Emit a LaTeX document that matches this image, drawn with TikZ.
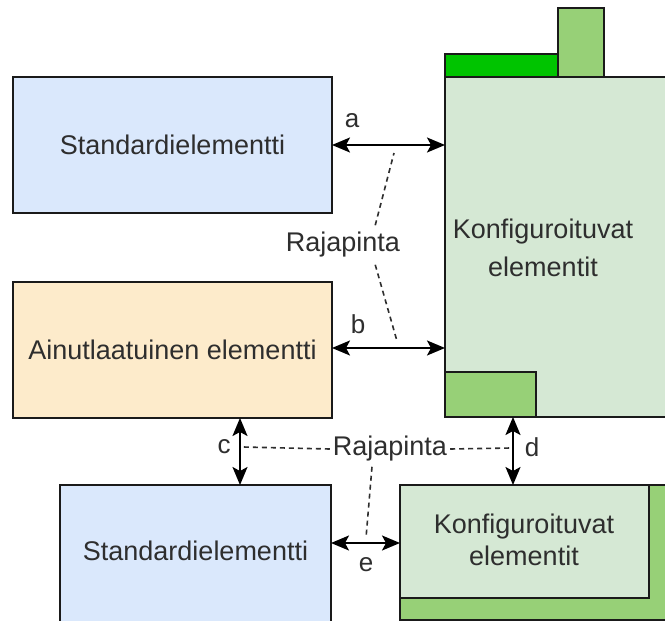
\documentclass[tikz,border=0pt]{standalone}
\usepackage{fontspec}
\setmainfont{Liberation Sans}
\usetikzlibrary{arrows.meta,calc}
\definecolor{stdblue}{HTML}{DAE8FC}
\definecolor{uniqcream}{HTML}{FDEBCB}
\definecolor{cfglight}{HTML}{D5E8D4}
\definecolor{cfgmid}{HTML}{97D077}
\definecolor{cfgbright}{HTML}{00C400}
\definecolor{txtgray}{HTML}{2E2E2E}
\definecolor{edge}{HTML}{1A1A1A}
\begin{document}
\begin{tikzpicture}[x=1pt,y=-1pt,
  box/.style={draw=edge,line width=1.8pt,rectangle,inner sep=0pt,outer sep=0pt},
  txt/.style={text=txtgray,font=\fontsize{27}{32}\selectfont,align=center,inner sep=0pt},
  lbl/.style={text=txtgray,font=\fontsize{26}{30}\selectfont,inner sep=0pt},
  link/.style={line width=1.9pt,draw=black,{Stealth[length=18pt,width=15pt,inset=4pt]}-{Stealth[length=18pt,width=15pt,inset=4pt]}},
  hint/.style={draw=txtgray,line width=1.6pt,dash pattern=on 5pt off 4pt}]
\clip (0,0) rectangle (665,621);
\fill[white] (0,0) rectangle (665,621);

% left column
\node[box,fill=stdblue,minimum width=319pt,minimum height=136pt] (std1) at (172.5,145) {};
\node[txt] (std1t) at (std1.center) {Standardielementti};
\node[box,fill=uniqcream,minimum width=319pt,minimum height=136pt] (uniq) at (172.5,350) {};
\node[txt] (uniqt) at (uniq.center) {Ainutlaatuinen elementti};

% large configurable block with its add-ons
\node[box,fill=cfglight,minimum width=260pt,minimum height=340pt] (konf1) at (575,247) {};
\node[box,fill=cfgbright,minimum width=113pt,minimum height=23pt] (bar) at (501.5,65.5) {};
\node[box,fill=cfgmid,minimum width=46pt,minimum height=69pt] (tower) at (581,42.5) {};
\node[box,fill=cfgmid,minimum width=91pt,minimum height=45pt] (foot) at (490.5,394.5) {};
\node[txt] (konf1t) at (543,248) {Konfiguroituvat\\[6pt]elementit};

% bottom row
\node[box,fill=stdblue,minimum width=271pt,minimum height=160pt] (std2) at (195.5,565) {};
\node[txt] (std2t) at (195.5,551) {Standardielementti};
\node[box,fill=cfgmid,minimum width=290pt,minimum height=135pt] (konfb) at (545,552.5) {};
\node[box,fill=cfglight,minimum width=249pt,minimum height=113pt] (konf2) at (524.5,541.5) {};
\node[txt] (konf2t) at (524,540) {Konfiguroituvat\\[0pt]elementit};

% interfaces
\coordinate (cx) at (240,0);
\coordinate (dx) at (513,0);
\coordinate (ey) at (0,543);
\draw[link] (std1.east) -- (std1.east -| konf1.west);
\draw[link] (uniq.east) ++(0,-2) -- ($(uniq.east -| konf1.west)+(0,-2)$);
\draw[link] (uniq.south -| cx) -- (std2.north -| cx);
\draw[link] (konf1.south -| dx) -- (konf2.north -| dx);
\draw[link] (std2.east |- ey) -- (konf2.west |- ey);

\node[lbl] (la) at (352,121) {a};
\node[lbl] (lb) at (358,324) {b};
\node[lbl] (lc) at (224,447) {c};
\node[lbl] (ld) at (532,447) {d};
\node[lbl] (le) at (366,565) {e};

% interface captions and their pointers
\node[txt,fill=white,inner sep=3pt] (raja1) at (343,245) {Rajapinta};
\node[txt,fill=white,inner sep=3pt] (raja2) at (390,449) {Rajapinta};
\draw[hint] (raja1.north east) ++(-28,-4) -- (394,153);
\draw[hint] (raja1.south east) ++(-28,4) -- (397,341);
\draw[hint] (raja2.west) -- (243,447);
\draw[hint] (raja2.east) -- (511,448);
\draw[hint] (raja2.south) ++(-18,2) -- (366,538);
\end{tikzpicture}
\end{document}
